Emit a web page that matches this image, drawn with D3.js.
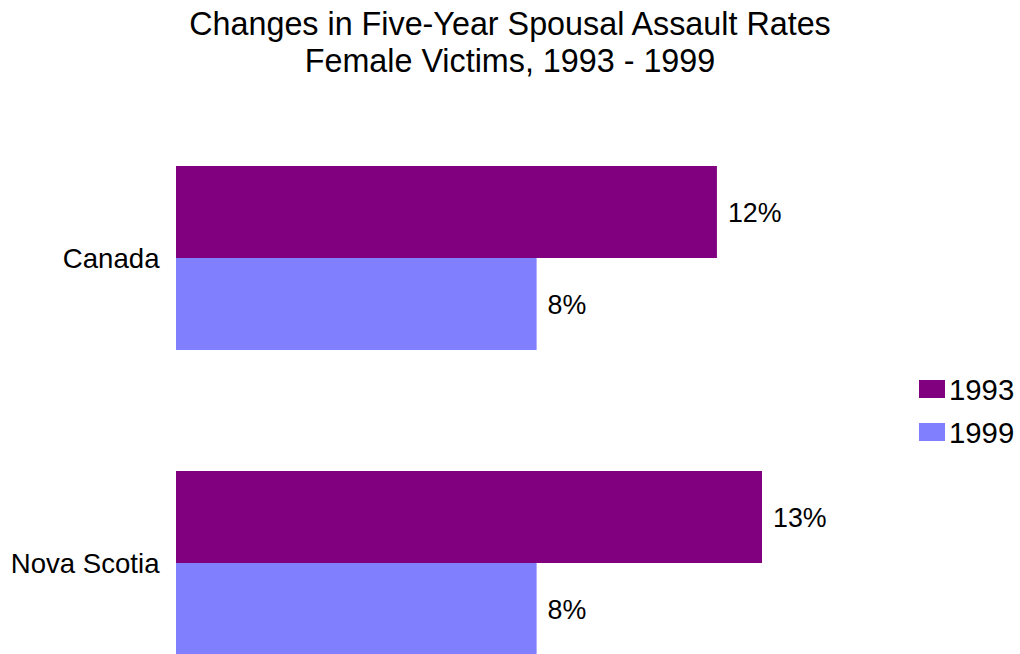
<!DOCTYPE html>
<html>
<head>
<meta charset="utf-8">
<title>Changes in Five-Year Spousal Assault Rates</title>
<script src="https://d3js.org/d3.v7.min.js"></script>
<style>
    body { margin: 0; background: #fff; }
    text { font-family: "Liberation Sans", Arial, sans-serif; fill: #000; }
</style>
</head>
<body>
<div id="chart"></div>
<script>
    // data
    const regions = ["Canada", "Nova Scotia"];
    const years = ["1993", "1999"];
    const rate1993 = [12, 13];
    const rate1999 = [8, 8];
    const titleLines = ["Changes in Five-Year Spousal Assault Rates", "Female Victims, 1993 - 1999"];

    const colors = { "1993": "#800080", "1999": "#8080ff" };

    const W = 1020, H = 654;
    const svg = d3.select("#chart").append("svg")
        .attr("width", W).attr("height", H);

    // title
    svg.selectAll("text.title")
        .data(titleLines)
        .enter().append("text")
        .attr("class", "title")
        .attr("x", 510)
        .attr("y", (d, i) => 35 + i * 37)
        .attr("text-anchor", "middle")
        .style("font-size", "32.3px")
        .text(d => d);

    const rows = regions.map((r, i) => ({ region: r, values: [rate1993[i], rate1999[i]] }));

    const x = d3.scaleLinear().domain([0, 13]).range([176, 762]);

    // outer band per region, inner band per year
    const y0 = d3.scaleBand().domain(regions).range([105.5, 715.5]).paddingInner(121 / 305).paddingOuter(60.5 / 305);
    const y1 = d3.scaleBand().domain(years).range([0, y0.bandwidth()]);

    const groups = svg.selectAll("g.region")
        .data(rows)
        .enter().append("g")
        .attr("class", "region")
        .attr("transform", d => "translate(0," + y0(d.region) + ")");

    groups.selectAll("rect")
        .data(d => d.values.map((v, i) => ({ year: years[i], value: v })))
        .enter().append("rect")
        .attr("x", x(0))
        .attr("y", d => y1(d.year))
        .attr("width", d => x(d.value) - x(0))
        .attr("height", y1.bandwidth())
        .attr("fill", d => colors[d.year]);

    groups.selectAll("text.val")
        .data(d => d.values.map((v, i) => ({ year: years[i], value: v })))
        .enter().append("text")
        .attr("class", "val")
        .attr("x", d => x(d.value) + 11)
        .attr("y", d => y1(d.year) + y1.bandwidth() / 2)
        .attr("dy", "0.36em")
        .style("font-size", "26.8px")
        .text(d => d.value + "%");

    // category axis labels
    const yAxis = d3.axisLeft(y0).tickSize(0).tickPadding(16.5);
    const ax = svg.append("g")
        .attr("transform", "translate(" + x(0) + ",0)")
        .call(yAxis);
    ax.select(".domain").remove();
    ax.selectAll("text")
        .attr("dy", "0.36em")
        .style("font-size", "27.6px")
        .style("font-family", "'Liberation Sans', Arial, sans-serif")
        .attr("fill", "#000");

    // legend
    const legend = svg.selectAll("g.legend")
        .data(years)
        .enter().append("g")
        .attr("class", "legend")
        .attr("transform", (d, i) => "translate(919," + (380 + i * 43) + ")");
    legend.append("rect")
        .attr("width", 26).attr("height", 18)
        .attr("fill", d => colors[d]);
    legend.append("text")
        .attr("x", 30).attr("y", 9)
        .attr("dy", "0.36em")
        .style("font-size", "29.3px")
        .text(d => d);
</script>
</body>
</html>
